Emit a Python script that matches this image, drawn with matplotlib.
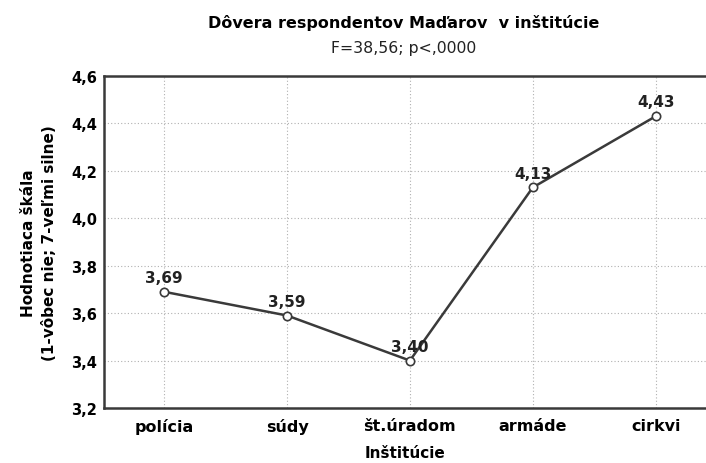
import numpy as np
import matplotlib.pyplot as plt

plt.rcParams['font.family'] = ['DejaVu Sans']

# data
institucie = ['polícia', 'súdy', 'št.úradom', 'armáde', 'cirkvi']
hodnoty = [3.69, 3.59, 3.40, 4.13, 4.43]
popisky = ['3,69', '3,59', '3,40', '4,13', '4,43']
y_ticks = [3.2, 3.4, 3.6, 3.8, 4.0, 4.2, 4.4, 4.6]
y_labels = ['3,2', '3,4', '3,6', '3,8', '4,0', '4,2', '4,4', '4,6']

fig = plt.figure(figsize=(7.06, 4.64), dpi=100)
ax = fig.add_axes([104 / 706, 1 - 409 / 464, 1 - 104 / 706, (409 - 77) / 464])

x = np.arange(len(institucie))
ax.plot(x, hodnoty, color='#3a3a3a', lw=1.8, marker='o', ms=6,
        mfc='white', mec='#3a3a3a', mew=1.2, zorder=3)

for xi, yi, t in zip(x, hodnoty, popisky):
    ax.annotate(t, (xi, yi), xytext=(0, 5), textcoords='offset points',
                ha='center', va='bottom', fontsize=11, fontweight='bold',
                color='#222222')

ax.set_xlim(-0.49, 4.41)
ax.set_ylim(3.2, 4.6)
ax.set_xticks(x)
ax.set_xticklabels(institucie, fontsize=11.5, fontweight='bold')
ax.set_yticks(y_ticks)
ax.set_yticklabels(y_labels, fontsize=10.5, fontweight='bold')
ax.tick_params(axis='y', length=0, pad=5)
ax.tick_params(axis='x', length=0, pad=7)

ax.grid(True, ls=(0, (1, 2)), color='#b0b0b0', lw=0.8)
ax.spines['right'].set_visible(False)
for s in ['left', 'top', 'bottom']:
    ax.spines[s].set_linewidth(1.8)
    ax.spines[s].set_color('#3a3a3a')

ax.set_xlabel('Inštitúcie', fontsize=11, fontweight='bold', labelpad=8)
ax.set_ylabel('Hodnotiaca škála\n(1-vôbec nie; 7-veľmi silne)', fontsize=11,
              fontweight='bold', labelpad=10, linespacing=1.55)

fig.text(0.572, 1 - 23 / 464, 'Dôvera respondentov Maďarov  v inštitúcie',
         ha='center', va='center', fontsize=11.5, fontweight='bold')
fig.text(0.572, 1 - 49 / 464, 'F=38,56; p<,0000', ha='center', va='center',
         fontsize=11.3, color='#222222')

fig.savefig('out.png', dpi=100)
